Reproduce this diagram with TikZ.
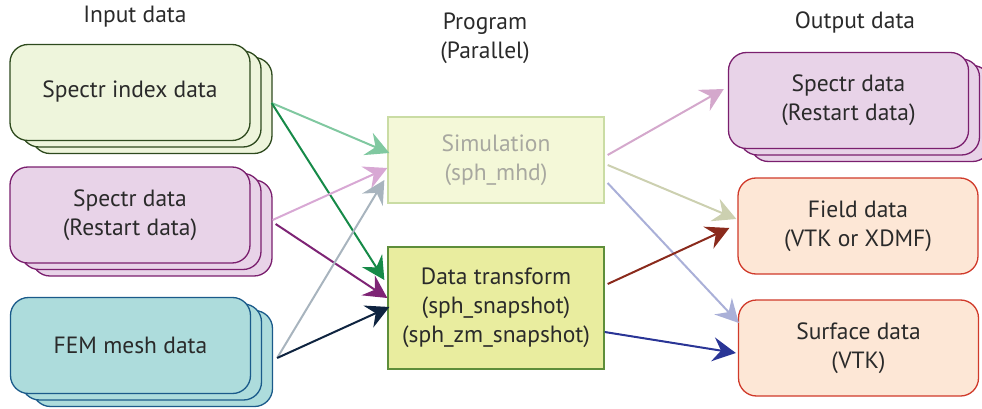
\documentclass[tikz,border=0pt]{standalone}
\usepackage{fontspec}
\setmainfont{PT Sans}
\usetikzlibrary{arrows.meta,shadows}
\definecolor{idxfill}{HTML}{EEF5DC}\definecolor{idxdraw}{HTML}{2E4A1E}
\definecolor{specfill}{HTML}{E8D3E8}\definecolor{specdraw}{HTML}{7A1F6E}
\definecolor{femfill}{HTML}{ADDCDC}\definecolor{femdraw}{HTML}{1A5A8A}
\definecolor{outfill}{HTML}{FDE7D6}\definecolor{outdraw}{HTML}{D03A2A}
\definecolor{simfill}{HTML}{F4F8D8}\definecolor{simdraw}{HTML}{CADCA4}
\definecolor{simtext}{HTML}{A8A8A0}
\definecolor{trfill}{HTML}{E9ED9F}\definecolor{trdraw}{HTML}{5E8E3A}
\definecolor{txt}{HTML}{2A2A2A}
\begin{document}
\begin{tikzpicture}[x=1pt,y=-1pt,
  every node/.style={font=\fontsize{23.5}{29}\selectfont,text=txt,align=center,inner sep=0pt},
  databox/.style={rounded corners=18pt,line width=1.3pt,minimum width=240pt,minimum height=96pt},
  stacked/.style={databox,double copy shadow={shadow xshift=11pt,shadow yshift=-6.5pt}},
  progbox/.style={line width=1.3pt,minimum width=216pt},
  flow/.style={line width=2pt,-{Stealth[length=23pt,width=24pt,inset=8pt]}}]
 \useasboundingbox (0,0) rectangle (982,409);
 % headings
 \node (hin) at (135,17) {Input data};
 \node (hprog) at (485,38) {Program\\(Parallel)};
 \node (hout) at (855,22) {Output data};
 % input data
 \node[stacked,fill=idxfill,draw=idxdraw] (idx) at (130,92.5) {\raisebox{7pt}{Spectr index data}};
 \node[stacked,fill=specfill,draw=specdraw] (spec) at (130,215) {Spectr data\\(Restart data)};
 \node[stacked,fill=femfill,draw=femdraw] (fem) at (130.5,345.5) {FEM mesh data};
 % programs
 \node[progbox,minimum height=86pt,fill=simfill,draw=simdraw,text=simtext] (sim) at (496,160) {Simulation\\(sph\_mhd)};
 \node[progbox,minimum height=122pt,fill=trfill,draw=trdraw] (trans) at (496,308) {Data transform\\(sph\_snapshot)\\(sph\_zm\_snapshot)};
 % output data
 \node[stacked,fill=specfill,draw=specdraw] (ospec) at (848.5,100.5) {Spectr data\\(Restart data)};
 \node[databox,fill=outfill,draw=outdraw] (field) at (858,226) {Field data\\(VTK or XDMF)};
 \node[databox,fill=outfill,draw=outdraw] (surf) at (858.5,348) {Surface data\\(VTK)};
 % inputs to programs
 \draw[flow,color={rgb,255:red,128;green,200;blue,160}] ([xshift=21pt,yshift=-10.5pt]idx.east) -- ([xshift=2pt,yshift=7pt]sim.west);
 \draw[flow,color={rgb,255:red,22;green,138;blue,72}] ([xshift=21pt,yshift=-10.5pt]idx.east) -- ([xshift=-3pt,yshift=28pt]trans.west);
 \draw[flow,color={rgb,255:red,216;green,168;blue,212}] ([xshift=22pt,yshift=-5pt]spec.east) -- ([yshift=-8pt]sim.west);
 \draw[flow,color={rgb,255:red,126;green,36;blue,117}] ([xshift=25pt,yshift=-9pt]spec.east) -- ([yshift=10pt]trans.west);
 \draw[flow,color={rgb,255:red,168;green,180;blue,190}] ([xshift=26pt,yshift=-12.5pt]fem.east) -- ([xshift=-3pt,yshift=-20pt]sim.west);
 \draw[flow,color={rgb,255:red,15;green,36;blue,64}] ([xshift=26pt,yshift=-12.5pt]fem.east) -- ([xshift=2pt,yshift=1pt]trans.west);
 % programs to outputs
 \draw[flow,color={rgb,255:red,212;green,168;blue,204}] ([xshift=3pt,yshift=5pt]sim.east) -- ([xshift=-4pt,yshift=11.5pt]ospec.west);
 \draw[flow,color={rgb,255:red,204;green,208;blue,176}] ([xshift=3pt,yshift=-5pt]sim.east) -- ([xshift=-1pt,yshift=7pt]field.west);
 \draw[flow,color={rgb,255:red,170;green,176;blue,216}] ([xshift=3pt,yshift=-23pt]sim.east) -- ([xshift=1pt,yshift=25pt]surf.west);
 \draw[flow,color={rgb,255:red,138;green,42;blue,28}] ([xshift=3pt,yshift=24pt]trans.east) -- ([xshift=-8pt,yshift=-2pt]field.west);
 \draw[flow,color={rgb,255:red,42;green,53;blue,150}] ([yshift=-24pt]trans.east) -- ([xshift=-2pt,yshift=-5pt]surf.west);
\end{tikzpicture}
\end{document}
